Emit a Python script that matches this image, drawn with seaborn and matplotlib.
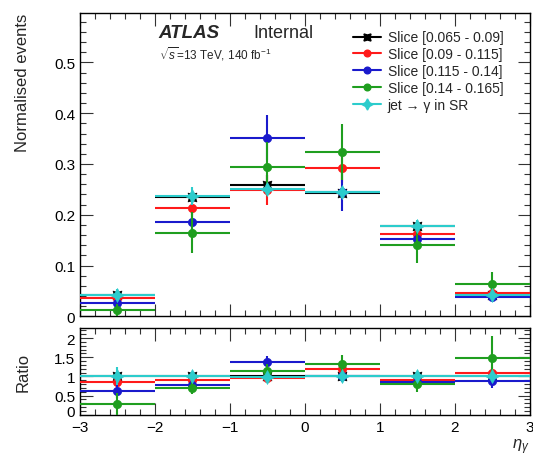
import numpy as np
import pandas as pd
import matplotlib
matplotlib.use("Agg")
import matplotlib.pyplot as plt
import matplotlib.transforms as mtransforms
import seaborn as sns
from matplotlib.ticker import MultipleLocator, FixedLocator

# ---------------- data ----------------
bin_edges = [-3, -2, -1, 0, 1, 2, 3]
bin_centers = [-2.5, -1.5, -0.5, 0.5, 1.5, 2.5]

labels = ["Slice [0.065 - 0.09]", "Slice [0.09 - 0.115]", "Slice [0.115 - 0.14]",
          "Slice [0.14 - 0.165]", "jet \u2192 \u03b3 in SR"]

slice1_vals = [0.043, 0.235, 0.258, 0.243, 0.178, 0.043]
slice1_errs = [0.005, 0.010, 0.020, 0.012, 0.008, 0.004]
slice2_vals = [0.037, 0.214, 0.249, 0.292, 0.162, 0.047]
slice2_errs = [0.006, 0.015, 0.030, 0.030, 0.015, 0.006]
slice3_vals = [0.027, 0.185, 0.352, 0.245, 0.152, 0.038]
slice3_errs = [0.008, 0.020, 0.045, 0.038, 0.015, 0.008]
slice4_vals = [0.012, 0.165, 0.294, 0.324, 0.141, 0.064]
slice4_errs = [0.012, 0.040, 0.050, 0.055, 0.036, 0.024]
sr_vals = [0.043, 0.237, 0.251, 0.244, 0.178, 0.043]
sr_errs = [0.010, 0.018, 0.010, 0.010, 0.012, 0.005]

all_vals = [slice1_vals, slice2_vals, slice3_vals, slice4_vals, sr_vals]
all_errs = [slice1_errs, slice2_errs, slice3_errs, slice4_errs, sr_errs]
colors = ["#000000", "#ff1a1a", "#1a1acc", "#1f9e1f", "#2ccccc"]
markers = [(4, 1, 45), "o", "o", "o", (4, 1, 0)]
msizes = [9, 6, 6, 6, 10]

# ---------------- style ----------------
sns.set_theme(style="ticks")
plt.rcParams["font.family"] = ["Liberation Sans", "DejaVu Sans"]
plt.rcParams["mathtext.fontset"] = "custom"
plt.rcParams["mathtext.rm"] = "Liberation Sans"
plt.rcParams["mathtext.it"] = "Liberation Sans:italic"

fig = plt.figure(figsize=(5.33, 4.56), dpi=100)
ax = fig.add_axes([0.150, 0.304, 0.844, 0.665])
rax = fig.add_axes([0.150, 0.0884, 0.844, 0.190], sharex=ax)

ref = np.array(slice1_vals)
half = 0.5
rows = []
for i, (v, e) in enumerate(zip(all_vals, all_errs)):
    for c, vv, ee in zip(bin_centers, v, e):
        rows.append(dict(series=labels[i], x=c, y=vv, err=ee))
df = pd.DataFrame(rows)

handles = []
for i, lab in enumerate(labels):
    sub = df[df.series == lab]
    col = colors[i]
    ax.errorbar(sub.x, sub.y, xerr=half, yerr=sub.err, fmt="none",
                ecolor=col, elinewidth=1.5, capsize=0, zorder=2 + i)
    sns.scatterplot(x=sub.x, y=sub.y, ax=ax, color=col, marker=markers[i],
                    s=msizes[i] ** 2, edgecolor=col, linewidth=0.5,
                    zorder=3 + i, legend=False)
    rv = sub.y.values / ref
    re = sub.err.values / ref
    rax.errorbar(sub.x, rv, xerr=half, yerr=re, fmt="none",
                 ecolor=col, elinewidth=1.5, capsize=0, zorder=2 + i)
    sns.scatterplot(x=sub.x.values, y=rv, ax=rax, color=col, marker=markers[i],
                    s=msizes[i] ** 2, edgecolor=col, linewidth=0.5,
                    zorder=3 + i, legend=False)
    h = plt.Line2D([], [], color=col, lw=1.5, marker=markers[i],
                   markersize=msizes[i] * 0.8, markeredgecolor=col)
    handles.append(h)

# axes limits / ticks
ax.set_xlim(-3, 3)
ax.set_ylim(0, 0.597)
rax.set_ylim(0, 2.26)

for a in (ax, rax):
    a.tick_params(which="both", direction="in", top=True, right=True,
                  labelsize=11, colors="#333333", labelcolor="black")
    a.tick_params(which="major", length=9, width=0.8)
    a.tick_params(which="minor", length=4.5, width=0.8)
    a.xaxis.set_major_locator(MultipleLocator(1))
    a.xaxis.set_minor_locator(MultipleLocator(0.2))
    for s in a.spines.values():
        s.set_linewidth(1.0)
        s.set_color("black")

ax.yaxis.set_major_locator(FixedLocator([0, 0.1, 0.2, 0.3, 0.4, 0.5]))
ax.yaxis.set_minor_locator(MultipleLocator(0.02))
ax.set_yticklabels(["0", "0.1", "0.2", "0.3", "0.4", "0.5"])
plt.setp(ax.get_xticklabels(), visible=False)

rax.yaxis.set_major_locator(FixedLocator([0, 0.5, 1, 1.5, 2]))
rax.yaxis.set_minor_locator(MultipleLocator(0.1))
rax.set_yticklabels(["0", "0.5", "1", "1.5", "2"])
rax.set_xticks([-3, -2, -1, 0, 1, 2, 3])
rax.set_xticklabels(["\u22123", "\u22122", "\u22121", "0", "1", "2", "3"])

# nudge the ratio "0" label up so it does not collide with "-3"
fig.canvas.draw()
ylabs = rax.get_yticklabels()
off = mtransforms.ScaledTranslation(0, 3 / 72, fig.dpi_scale_trans)
ylabs[0].set_transform(ylabs[0].get_transform() + off)

ax.set_xlabel("")
ax.set_ylabel("Normalised events", fontsize=12, loc="top", labelpad=17)
rax.set_ylabel("Ratio", fontsize=12, labelpad=17)
rax.set_xlabel(r"$\eta_{\gamma}$", fontsize=12, loc="right", labelpad=2)

# labels
ax.text(0.175, 0.935, "ATLAS", transform=ax.transAxes, fontsize=13.5,
        fontweight="bold", fontstyle="italic", va="center")
ax.text(0.385, 0.935, "Internal", transform=ax.transAxes, fontsize=13,
        va="center")
ax.text(0.175, 0.868, r"$\sqrt{s}$=13 TeV, 140 fb$^{-1}$",
        transform=ax.transAxes, fontsize=8.5, va="center")

leg = ax.legend(handles, labels, loc="upper left", bbox_to_anchor=(0.585, 0.975),
                frameon=False, fontsize=10, handlelength=2.0, handletextpad=0.5,
                labelspacing=0.2, borderpad=0.2)

fig.savefig("out.png", dpi=100)
